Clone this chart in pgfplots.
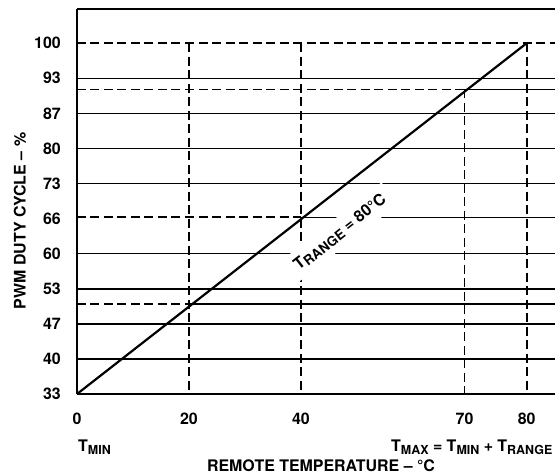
\documentclass[border=0pt]{standalone}
\usepackage{fontspec}
\setmainfont{TeX Gyre Heros}
\usepackage{pgfplots}
\pgfplotsset{compat=1.18}
\newcommand\lbl{\fontsize{16}{19}\selectfont\bfseries}
\newcommand\sub[1]{\raisebox{-3bp}{\fontsize{12.5}{14}\selectfont\bfseries #1}}
\newcommand\subb[1]{\raisebox{-2.5bp}{\fontsize{13.5}{15}\selectfont\bfseries #1}}
\begin{document}
\begin{tikzpicture}
\begin{axis}[name=ax, scale only axis, width=478bp, height=385bp,
 xmin=0, xmax=85.36, ymin=33.33, ymax=106.5,
 axis x line*=bottom, axis y line*=left,
 axis line style={line width=2.3bp},
 xtick={0,20,40,69.2,80.3}, xticklabels={0,20,40,70,80},
 ytick={33.33,40,46.67,53.33,60,66.67,73.33,80,86.67,93.33,100},
 yticklabels={33,40,47,53,60,66,73,80,87,93,100},
 major tick length=0pt,
 ticklabel style={font=\lbl, inner sep=0pt},
 /pgf/number format/assume math mode=true,
 xticklabel style={anchor=base, yshift=-30.75bp},
 yticklabel style={anchor=east, xshift=-16bp},
 clip=false,
]
% top frame line
\addplot[black, line width=2.3bp] coordinates {(0,106.5) (85.36,106.5)};
% solid horizontal lines
\addplot[black, line width=1.5bp] coordinates {(0,40) (85.36,40)};
\addplot[black, line width=1.5bp] coordinates {(0,46.67) (85.36,46.67)};
\addplot[black, line width=1.5bp] coordinates {(20,50.4) (85.36,50.4)};
\addplot[black, line width=1.5bp] coordinates {(0,53.33) (85.36,53.33)};
\addplot[black, line width=1.5bp] coordinates {(0,60) (85.36,60)};
\addplot[black, line width=1.5bp] coordinates {(40,66.9) (85.36,66.9)};
\addplot[black, line width=1.5bp] coordinates {(0,73.33) (85.36,73.33)};
\addplot[black, line width=1.5bp] coordinates {(0,80) (85.36,80)};
\addplot[black, line width=1.5bp] coordinates {(0,86.67) (85.36,86.67)};
\addplot[black, line width=1.5bp] coordinates {(69.2,91.2) (85.36,91.2)};
\addplot[black, line width=1.5bp] coordinates {(0,93.33) (85.36,93.33)};
% dashed guide lines
\addplot[black, line width=1.8bp, dash pattern=on 9bp off 4.5bp] coordinates {(0,100) (85.36,100)};
\addplot[black, line width=1.8bp, dash pattern=on 9bp off 4.5bp] coordinates {(0,91.2) (69.2,91.2)};
\addplot[black, line width=1.8bp, dash pattern=on 9bp off 4.5bp] coordinates {(0,66.9) (40,66.9)};
\addplot[black, line width=1.8bp, dash pattern=on 9bp off 4.5bp] coordinates {(0,50.4) (20,50.4)};
\addplot[black, line width=1.8bp, dash pattern=on 9bp off 4.5bp] coordinates {(20,100) (20,33.33)};
\addplot[black, line width=1.8bp, dash pattern=on 9bp off 4.5bp] coordinates {(40,100) (40,33.33)};
\addplot[black, line width=1.8bp, dash pattern=on 9bp off 4.5bp] coordinates {(69.2,91.2) (69.2,33.33)};
\addplot[black, line width=1.8bp, dash pattern=on 9bp off 4.5bp] coordinates {(80.3,100) (80.3,33.33)};
% transfer line
\addplot[black, line width=2.2bp] coordinates {(0,33.33) (80.3,100)};
% labels
\node[font=\lbl, rotate=38, fill=white, inner xsep=7bp, inner ysep=6.5bp] at (axis cs:47,64.1) {T\subb{RANGE} = 80°C};
\node[font=\lbl, anchor=base west, inner sep=0pt] at (axis cs:0.18,22.31) {T\sub{MIN}};
\node[font=\lbl, anchor=base west, inner sep=0pt] at (axis cs:56.07,22.31) {T\sub{MAX} = T\sub{MIN} + T\sub{RANGE}};
\node[font=\lbl, anchor=base, inner sep=0pt] at (axis cs:43.57,18.6) {REMOTE TEMPERATURE – °C};
\node[font=\lbl, rotate=90, inner sep=0pt] at (axis cs:-10.18,66.2) {PWM DUTY CYCLE – \%};
\end{axis}
\pgfresetboundingbox
\path ([shift={(-77bp,-78bp)}]ax.south west) rectangle ([shift={(478bp,394bp)}]ax.south west);
\end{tikzpicture}
\end{document}
